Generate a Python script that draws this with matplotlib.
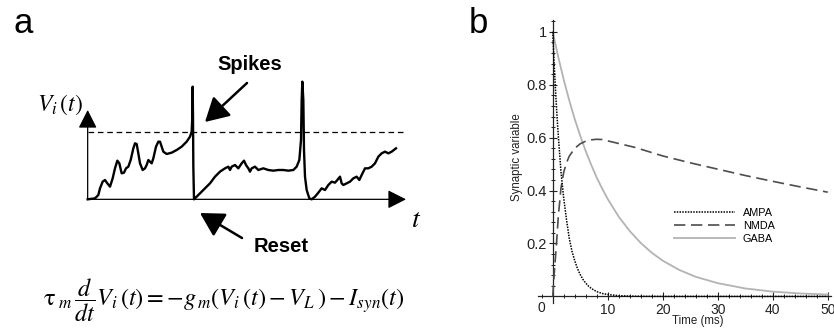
import matplotlib
matplotlib.use("Agg")
import matplotlib.pyplot as plt
from matplotlib.ticker import MultipleLocator, FixedLocator, FuncFormatter

plt.rcParams["font.family"] = ["Liberation Sans", "DejaVu Sans"]
plt.rcParams["mathtext.fontset"] = "stix"

# panel a: schematic membrane trace (arbitrary units, threshold at 201)
trace_t = [0, 22, 32, 37, 45, 52, 59, 67, 75, 82, 89, 95, 102, 109, 115, 122, 129, 137,
           142, 147, 152, 157, 165, 172, 177, 182, 187, 192, 197, 205, 212, 217, 222, 227,
           237, 252, 267, 282, 297, 307, 312, 314, 315, 316, 317, 319, 327, 337, 352, 367,
           382, 397, 412, 422, 427, 432, 442, 452, 462, 469, 475, 482, 487, 492, 502, 512,
           527, 542, 557, 572, 587, 602, 617, 627, 635, 640, 642, 644, 647, 649, 652, 657,
           665, 672, 682, 692, 702, 712, 722, 732, 742, 749, 757, 762, 767, 777, 787, 797,
           807, 815, 822, 832, 842, 852, 862, 872, 882, 892, 902, 912, 925]
trace_v = [0, 3, 13, 33, 53, 58, 48, 38, 63, 93, 116, 108, 78, 80, 93, 98, 118, 153,
           168, 166, 138, 108, 88, 93, 103, 118, 113, 108, 123, 158, 173, 173, 158, 143,
           136, 140, 148, 158, 173, 188, 203, 248, 338, 248, 98, 0, 8, 18, 33, 48,
           68, 83, 93, 98, 88, 98, 103, 93, 108, 116, 103, 93, 83, 93, 98, 88,
           93, 88, 86, 88, 88, 86, 88, 98, 118, 178, 298, 353, 298, 148, 68, 28,
           3, 0, 8, 20, 33, 28, 43, 53, 50, 58, 68, 48, 43, 48, 53, 63,
           68, 58, 73, 93, 93, 98, 108, 128, 138, 143, 138, 143, 153]
threshold = 201
t_axis_end = 955
v_axis_end = 268

# panel b: synaptic gating variables
ampa_t = [0, 0.25, 0.5, 0.75, 1, 1.5, 2, 2.5, 3, 3.5, 4, 4.5, 5, 5.5, 6, 6.5, 7, 8, 9,
          10, 12, 15, 20, 30, 40, 50]
ampa_s = [1, 0.88, 0.78, 0.69, 0.61, 0.47, 0.37, 0.29, 0.22, 0.17, 0.135, 0.105, 0.082,
          0.064, 0.05, 0.039, 0.03, 0.018, 0.011, 0.007, 0.0025, 0.0006, 0, 0, 0, 0]
nmda_t = [0, 0.25, 0.5, 0.75, 1, 1.5, 2, 2.5, 3, 4, 5, 6, 7, 8, 9, 10, 12, 15, 20, 25,
          30, 35, 40, 45, 50]
nmda_s = [0, 0.08, 0.15, 0.22, 0.3, 0.41, 0.47, 0.505, 0.53, 0.56, 0.577, 0.587, 0.592,
          0.594, 0.593, 0.588, 0.578, 0.563, 0.531, 0.505, 0.481, 0.457, 0.435, 0.414, 0.394]
gaba_t = [0, 1, 2, 3, 4, 5, 6, 7, 8, 9, 10, 12, 14, 16, 18, 20, 23, 26, 30, 35, 40, 45, 50]
gaba_s = [1, 0.905, 0.819, 0.741, 0.670, 0.607, 0.549, 0.497, 0.449, 0.407, 0.368, 0.301,
          0.247, 0.202, 0.165, 0.135, 0.100, 0.074, 0.050, 0.030, 0.018, 0.011, 0.007]

W, H = 834, 333
fig = plt.figure(figsize=(W / 100, H / 100), dpi=100)

# ---------------- panel a ----------------
axa = fig.add_axes([0, 0, 440 / W, 1])
axa.set_xlim(-263, 3 * 440 - 263)
axa.set_ylim(598 - 3 * H, 598)
axa.axis("off")

axa.plot([0, t_axis_end], [threshold, threshold], color="k", lw=0.9, dashes=(4.5, 3))
for tip in [(0, v_axis_end), (t_axis_end, 0)]:
    axa.annotate("", xy=tip, xytext=(0, 0),
                 arrowprops=dict(arrowstyle="-|>,head_length=0.75,head_width=0.38",
                                 mutation_scale=15, color="k", lw=0.9,
                                 shrinkA=0, shrinkB=0))
axa.plot(trace_t, trace_v, color="k", lw=1.7, solid_joinstyle="round")

axa.text(-224, 499, "a", fontsize=25, ha="left", va="baseline")
axa.text(487, 388, "Spikes", fontsize=14.5, fontweight="bold", ha="center", va="baseline")
axa.text(580, -158, "Reset", fontsize=14.5, fontweight="bold", ha="center", va="baseline")
axa.annotate("", xy=(352, 232), xytext=(478, 349),
             arrowprops=dict(arrowstyle="-|>,head_length=0.8,head_width=0.45",
                             mutation_scale=18, color="k", lw=1.8, shrinkA=0, shrinkB=0))
axa.annotate("", xy=(337, -41), xytext=(463, -116),
             arrowprops=dict(arrowstyle="-|>,head_length=0.8,head_width=0.45",
                             mutation_scale=18, color="k", lw=1.8, shrinkA=0, shrinkB=0))
axa.text(-83, 283, r"$V_i\,(t)$", fontsize=17, ha="center", va="center")
axa.text(985, -62, r"$t$", fontsize=20, ha="center", va="center")
axa.text(409, -302,
         r"$\mathrm{\tau}_{\;m}\,\dfrac{d}{dt}V_i\,(t) = -g_{\,m}(V_i\,(t) - V_L\,) - I_{syn}(t)$",
         fontsize=17.5, ha="center", va="center")

# ---------------- panel b ----------------
x0, x1 = -2.7, 50.5
y0, y1 = -0.025, 1.045
left_px, right_px, top_px, bot_px = 537.9, 830.5, 20, 303
axb = fig.add_axes([left_px / W, (H - bot_px) / H, (right_px - left_px) / W, (bot_px - top_px) / H])
axb.set_xlim(x0, x1)
axb.set_ylim(y0, y1)

axb.plot(gaba_t, gaba_s, color="#b3b3b3", lw=1.3, label="GABA", zorder=2)
axb.plot(nmda_t, nmda_s, color="#4d4d4d", lw=1.2, dashes=(6.8, 3.4), label="NMDA", zorder=3)
axb.plot(ampa_t, ampa_s, color="k", lw=1.1, dashes=(1, 0.8), label="AMPA", zorder=4)

for s in ["top", "right"]:
    axb.spines[s].set_visible(False)
for s in ["left", "bottom"]:
    axb.spines[s].set_position(("data", 0))
    axb.spines[s].set_color("#222222")
    axb.spines[s].set_linewidth(0.9)

axb.xaxis.set_major_locator(FixedLocator([10, 20, 30, 40, 50]))
axb.xaxis.set_minor_locator(MultipleLocator(2))
axb.yaxis.set_major_locator(FixedLocator([0.2, 0.4, 0.6, 0.8, 1.0]))
axb.yaxis.set_minor_locator(MultipleLocator(0.04))
axb.yaxis.set_major_formatter(FuncFormatter(lambda v, p: "1" if abs(v - 1) < 1e-9 else f"{v:.1f}"))
axb.tick_params(which="major", direction="inout", length=6, width=0.8, color="#222222",
                labelsize=10.5, labelcolor="#222222", pad=1.5)
axb.tick_params(which="minor", direction="inout", length=3.5, width=0.7, color="#222222")
axb.tick_params(axis="x", which="major", labelsize=10, pad=1.5)
axb.text(-2.1, -0.045, "0", fontsize=10, color="#222222", ha="center", va="center")

fig.text(516.7 / W, (H - 157) / H, "Synaptic variable", rotation=90, fontsize=8.3,
         color="#222222", ha="center", va="center")
fig.text(698 / W, (H - 321) / H, "Time (ms)", fontsize=8.3, color="#222222",
         ha="center", va="center")
fig.text(478 / W, (H - 33) / H, "b", fontsize=25, ha="center", va="baseline")

handles, labels = axb.get_legend_handles_labels()
order = [2, 1, 0]
axb.legend([handles[i] for i in order], [labels[i] for i in order],
           loc="center left", bbox_to_anchor=(674 / W, (H - 226) / H),
           bbox_transform=fig.transFigure, frameon=False, fontsize=7.8,
           handlelength=5.6, handletextpad=0.75, labelspacing=0.3,
           borderpad=0, borderaxespad=0)

fig.savefig("out.png", dpi=100)
